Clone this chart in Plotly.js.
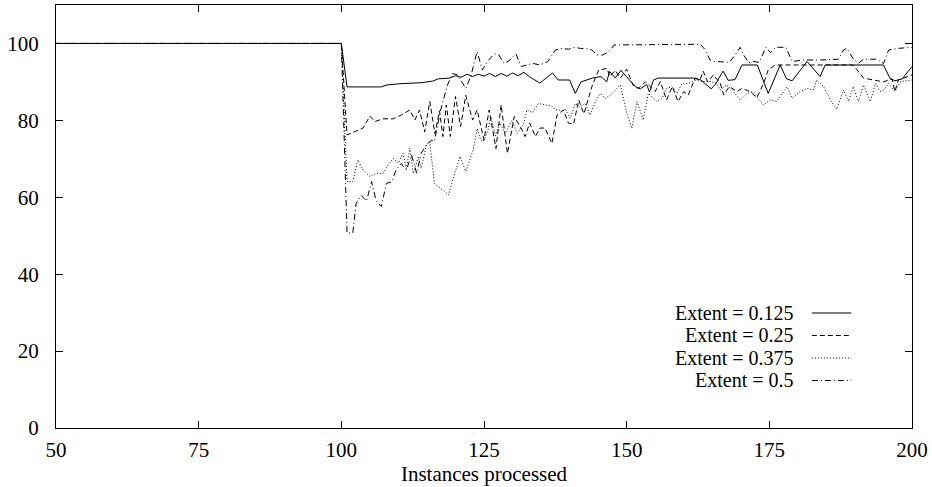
<!DOCTYPE html>
<html>
<head>
<meta charset="utf-8">
<script src="https://cdn.plot.ly/plotly-3.0.1.min.js"></script>
<style>html,body{margin:0;padding:0;background:#fff;}#chart{width:932px;height:487px;}</style>
</head>
<body>
<div id="chart"></div>
<script>
// Extent = 0.125 (solid)
const x125 = [50,100,101,107,108,110,114,116,117,119,120,121,122,123,124,125,126,127,128,129,130,131,132,133,134.8,137,138,140,141,142,144,145.5,146.5,147,148,149,150,151.5,152.4,153.5,154,154.7,155.5,161.7,163,164.2,164.8,165.5,166.9,167.8,169,170.2,172.9,174.8,176.9,178,179,181.6,183.9,184.8,195,196.2,197,198.3,200];
const y125 = [100,100,88.7,88.7,89.2,89.5,89.8,90.2,90.8,91,91.6,91.2,92,91.4,92,91.5,92.2,91.4,92.2,91.5,92.3,91.6,92.5,91.3,89.7,92.3,90.5,90.5,87,90,91,91.4,90,92.7,91,93,91.3,88.8,88.2,89.3,87.4,90.5,91,91,90.5,88.8,88.2,89.3,92.8,90.4,90.6,94.4,94.4,87,94.4,90.8,90.3,95.3,91.4,94.4,94.4,90.8,90.3,90.8,94];

// Extent = 0.25 (dashed)
const x25 = [50,100,101,102.4,103.8,105,105.9,107.3,109.1,110.5,112,112.9,113.7,114.6,115.5,116.4,117.2,117.8,118.4,119.1,120,120.9,121.8,123,123.8,125,125.9,127.1,128,129.1,130.3,131.5,132.2,133,134,134.8,135.7,136.9,137.8,138.9,139.8,140.7,141.6,142.5,143.4,144,145.1,146.6,147,148,148.9,150,151.1,152,153.3,154,155,155.9,157,158,159,160,160.8,162,162.9,163.4,164.2,165.2,166.4,167,168,169.3,170.2,171.6,172.8,174,174.8,176,189.7,191.5,195,196.5,197,197.6,200];
const y25 = [100,100,76.2,77.1,78,81.1,79.7,80.4,80.4,81.4,82.7,80.1,82.7,77,84.9,76.5,82.5,75.8,84,75.8,86.2,78.4,86.5,80.1,82.7,74.9,82.7,72.7,84,71.4,81,78,75.8,79.3,75.8,78,78,74,81.4,82.7,79.3,79,85.3,81.7,86.6,89.2,93.1,93.5,91.4,93,91,93.3,89.2,88.3,90,89,87.5,90.1,85.3,88.8,84.9,87.5,86.6,91,90.6,92.8,90,91.8,89.6,86.6,88.8,87.5,88.3,87.5,85.9,89.6,93.1,94.4,94.4,91,90,90.8,87.5,90.5,91.8];

// Extent = 0.375 (dotted)
const x375 = [50,100,101,102,102.9,103.8,105,106.1,107.3,108.2,109.1,110,110.8,111.4,112,112.6,113.5,114,114.9,115.5,116.3,118.8,119.7,120.8,121.8,123.1,123.8,124.4,124.9,125.7,126.2,127,127.8,128.7,129.9,130.8,132,132.5,133.5,134.5,136.9,137.5,138.1,138.7,139.2,140.1,141,141.8,142.7,143.6,144.5,145.4,146.2,147.1,148.3,148.9,150,150.9,151.8,152.9,153.8,154.7,155.3,156.2,157,157.9,158.8,159.7,160.8,162,163.4,164.6,165.8,166.4,167.5,168.7,169.9,171.1,172.2,173,174,175.1,176.3,178.1,179,180.4,181.6,182.7,183.3,184.5,185.7,186.8,188,188.9,189.7,190.6,191.5,192.7,193.6,194.4,195,195.9,197,198,200];
const y375 = [100,100,64.1,64.1,69.7,67.1,65.4,66.2,66.2,68.4,70.1,68.8,71.4,67.5,72.8,66.2,70.5,67.5,73.6,74.5,63.6,60.6,65.4,70.6,66.7,72.3,77.9,75,74.5,77.5,81,76,79.3,76.6,80,76.6,79.3,82.7,82,84.4,83.7,82.7,82.8,82.2,83,80.5,84.4,83.5,84.4,81.4,84.8,87,85.7,86.5,88.3,89.2,82,77.9,84.9,80.1,87,85.8,84.9,85.7,88.3,88.8,87,89.6,89.6,90.4,90.1,90.1,89.6,87.9,89.2,87.5,85.3,87,87.5,85.7,84,85.3,84.9,88.8,85.7,87.5,88.3,87.9,90.5,88.8,85.3,82.9,87.9,84.9,88.8,84.9,89.2,84.9,89.6,87.5,87.9,89.6,87.5,90.1,90.5];

// Extent = 0.5 (dash-dot)
const x5 = [50,100,101,102,102.6,103.5,104.4,105.3,106.1,107,107.9,108.8,109.6,110.5,111.4,112.3,113.2,114,114.9,115.8,116.3,117.4,118.6,119.5,120.4,121.2,121.8,122.7,123.3,123.8,124.7,125.6,126.8,127.6,128.5,129.4,130.6,131.5,132.5,133.6,134.8,136.2,137.5,138.7,139.8,141,141.9,143,143.9,144.8,145.8,146.9,147.8,162.9,163.8,164.6,165.5,168,169,169.9,170.5,171.4,172.3,173.2,173.8,174.4,175.2,176.1,177.9,179,181,184,187.1,188,188.6,189.7,190.6,191.5,192.7,193.9,195,195.9,197.4,200];
const y5 = [100,100,50.7,50.7,58.4,60.5,59,64.1,59,57.6,63.6,64,67.1,68.8,67.1,71,66.2,71.5,73.5,74.9,74.5,82.7,89.2,92.2,91.8,90,88.3,91.5,94.8,97.9,93.1,95.3,97.3,97,94.8,95.5,97.3,94,94.4,94.8,94.4,95.3,98.3,98.7,98.5,99,98.7,98.7,98.3,97,97,97.9,99.6,99.8,98.3,95.7,95.3,95.1,97,99,97,95,95.3,95.1,97,99,97.6,99,99,95.3,95.7,95.7,95.9,98.3,98.7,96,94.8,95.9,95.9,95.9,94.8,98.3,98.7,99];

const seriesNames = ['Extent = 0.125','Extent = 0.25','Extent = 0.375','Extent = 0.5'];
const xTickVals = [50,75,100,125,150,175,200];
const yTickVals = [0,20,40,60,80,100];

const dashes = ['solid','5px,3px','1px,2px','6px,3px,1px,3px'];
const xs = [x125,x25,x375,x5];
const ys = [y125,y25,y375,y5];
const FONT = 'Liberation Serif, Times New Roman, serif';
const FS = 21;

const traces = xs.map((xv,i)=>({
  x: xv, y: ys[i], type:'scatter', mode:'lines', name: seriesNames[i],
  line:{color:'#000', width:1, dash:dashes[i]}, showlegend:false, hoverinfo:'skip'
}));

// legend drawn as right-aligned text with line samples to its right (gnuplot style)
const legY = [0.2719,0.2187,0.1655,0.1123];
const annotations = seriesNames.map((n,i)=>({
  text:n, xref:'paper', yref:'paper', x:0.863, y:legY[i], xanchor:'right', yanchor:'middle',
  showarrow:false, borderpad:0, font:{family:FONT, size:20, color:'#000'}
}));
const shapes = dashes.map((d,i)=>({
  type:'line', xref:'paper', yref:'paper', x0:0.883, x1:0.929, y0:legY[i], y1:legY[i],
  line:{color:'#000', width:1, dash:d}
}));

const layout = {
  width:932, height:487,
  margin:{l:56, r:20, t:5, b:59, pad:0},
  paper_bgcolor:'#fff', plot_bgcolor:'#fff',
  font:{family:FONT, size:FS, color:'#000'},
  showlegend:false,
  xaxis:{range:[50,200], tickvals:xTickVals, ticktext:xTickVals.map(String),
    ticks:'inside', ticklen:7, tickcolor:'#000', showline:true, linecolor:'#000', linewidth:1,
    mirror:'ticks', showgrid:false, zeroline:false, ticklabelstandoff:3,
    tickfont:{family:FONT, size:FS},
    title:{text:'Instances processed', font:{family:FONT, size:FS}, standoff:0}},
  yaxis:{range:[0,110], tickvals:yTickVals, ticktext:yTickVals.map(String),
    ticks:'inside', ticklen:7, tickcolor:'#000', showline:true, linecolor:'#000', linewidth:1,
    mirror:'ticks', showgrid:false, zeroline:false, ticklabelstandoff:12,
    tickfont:{family:FONT, size:FS}},
  annotations: annotations,
  shapes: shapes
};

Plotly.newPlot('chart', traces, layout, {staticPlot:true, displayModeBar:false});
</script>
</body>
</html>
